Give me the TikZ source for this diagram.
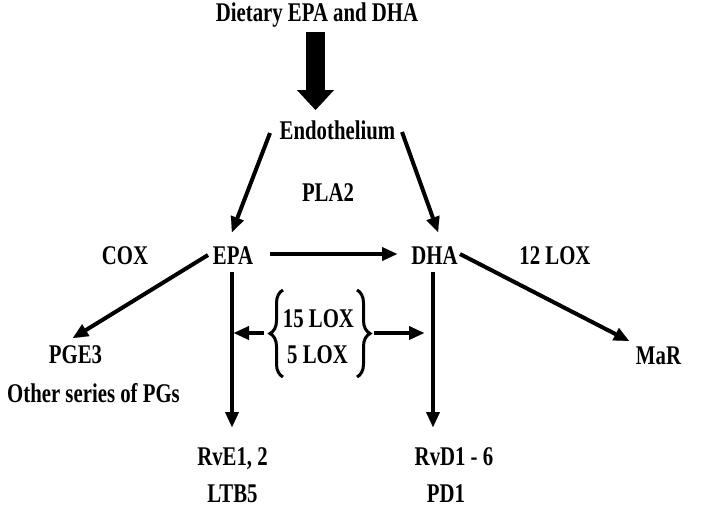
\documentclass[tikz,border=0pt]{standalone}
\usepackage{fontspec}
\setmainfont{Liberation Serif}[FakeStretch=0.77]
\usetikzlibrary{arrows.meta,decorations.pathreplacing}
\tikzset{
  lbl/.style={inner sep=0pt, anchor=base, font=\fontsize{27}{31}\selectfont\bfseries},
  arr/.style={line width=4pt, -{Triangle[length=15pt,width=14pt,line width=0.1pt]}},
  bigarr/.style={line width=19pt, -{Triangle[length=20pt,width=37pt,line width=0.1pt]}},
  brc/.style={line width=3pt, decorate, decoration={brace, amplitude=13pt}}
}
\begin{document}
\begin{tikzpicture}[x=1pt,y=-1pt]
\useasboundingbox (0,0) rectangle (708,512);
\node[lbl] (diet) at (317,21) {Dietary EPA and DHA};
\node[lbl] (endo) at (337.5,139) {Endothelium};
\node[lbl] (pla) at (328,201) {PLA2};
\node[lbl] (cox) at (125,264) {COX};
\node[lbl] (epa) at (233,264) {EPA};
\node[lbl] (dha) at (434.5,264) {DHA};
\node[lbl] (lox12) at (555,264) {12 LOX};
\node[lbl] (pge) at (75.5,363) {PGE3};
\node[lbl] (oth) at (93.5,402) {Other series of PGs};
\node[lbl] (mar) at (658.5,364) {MaR};
\node[lbl] (lox15) at (318.5,327) {15 LOX};
\node[lbl] (lox5) at (317.5,363) {5 LOX};
\node[lbl] (rve) at (232.5,465) {RvE1, 2};
\node[lbl] (ltb) at (232.5,502) {LTB5};
\node[lbl] (rvd) at (454,465) {RvD1 - 6};
\node[lbl] (pd) at (446,502) {PD1};
% braces
\coordinate (bl) at (283,290);
\coordinate (bl2) at (283,377);
\coordinate (br) at (357,290);
\coordinate (br2) at (357,377);
\draw[brc] (bl2) -- (bl);
\draw[brc] (br) -- (br2);
\coordinate (bla) at (264,333);
\coordinate (bra) at (374,333);
\coordinate (epaline) at (234,333);
\coordinate (dhaline) at (424,333);
% arrows
\draw[bigarr] ([shift={(-1.5,11)}]diet.base) -- ([shift={(-22,-29)}]endo.base);
\draw[arr] ([shift={(-67.5,-6)}]endo.base) -- ([shift={(-1,-32)}]epa.base);
\draw[arr] ([shift={(64.5,-7)}]endo.base) -- ([shift={(3.5,-32)}]dha.base);
\draw[arr] ([shift={(37,-10)}]epa.base) -- ([shift={(-37.5,-10)}]dha.base);
\draw[arr] ([shift={(-25,-9)}]epa.base) -- ([shift={(-2.5,-25)}]pge.base);
\draw[arr] ([shift={(25.5,-10)}]dha.base) -- ([shift={(-29.5,-23)}]mar.base);
\draw[arr] ([shift={(-1,8)}]epa.base) -- ([shift={(-0.5,-38)}]rve.base);
\draw[arr] ([shift={(-1.5,8)}]dha.base) -- ([shift={(-21,-38)}]rvd.base);
\draw[arr] (bla) -- (epaline);
\draw[arr] (bra) -- (dhaline);
\end{tikzpicture}
\end{document}
